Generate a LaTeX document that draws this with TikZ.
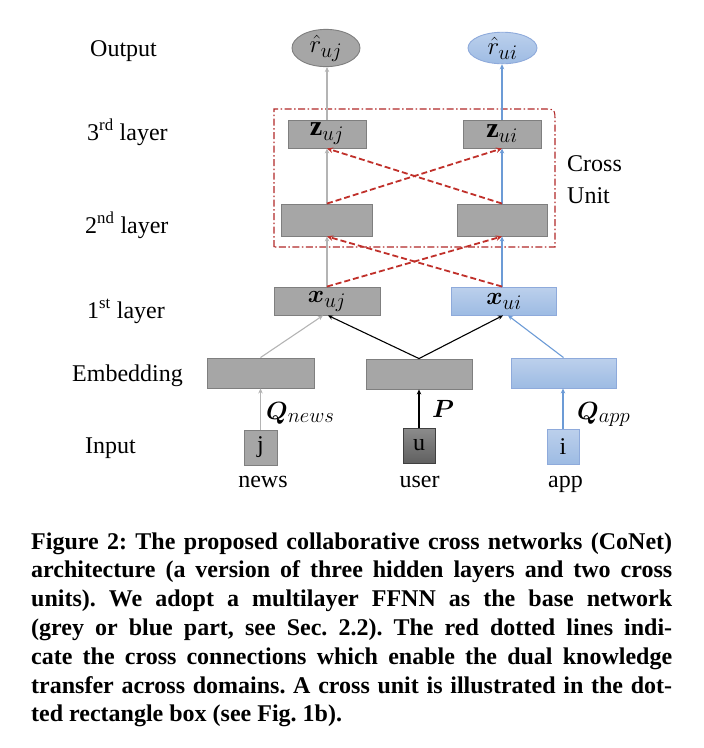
\documentclass[tikz,border=0pt]{standalone}
\usepackage{fontspec}
\usepackage{bm}
\setmainfont{Liberation Serif}
\usetikzlibrary{arrows.meta,shapes.geometric,calc}
\definecolor{gfill}{HTML}{A6A6A6}
\definecolor{gborder}{HTML}{7F7F7F}
\definecolor{gline}{HTML}{B4B4B4}
\definecolor{btop}{HTML}{BCD0EC}
\definecolor{bbot}{HTML}{9DBBE3}
\definecolor{bborder}{HTML}{8EAADB}
\definecolor{bline}{HTML}{6C9BD6}
\definecolor{utop}{HTML}{8C8C8C}
\definecolor{ubot}{HTML}{606060}
\definecolor{uborder}{HTML}{404040}
\definecolor{xred}{HTML}{C0302A}
\definecolor{cred}{HTML}{B02828}
\frenchspacing
\begin{document}
\begin{tikzpicture}[x=1pt,y=-1pt,
  big/.style={font=\fontsize{24}{28}\selectfont},
  mbig/.style={font=\fontsize{28}{32}\selectfont},
  lab/.style={big, inner sep=0pt, anchor=base west},
  mlab/.style={mbig, inner sep=0pt, anchor=base west},
  gbox/.style={draw=gborder, fill=gfill, line width=0.9pt, inner sep=0pt, big},
  bbox/.style={draw=bborder, top color=btop, bottom color=bbot, line width=0.9pt, inner sep=0pt, big},
  ubox/.style={draw=uborder, top color=utop, bottom color=ubot, line width=0.9pt, inner sep=0pt, big},
  gell/.style={ellipse, draw=gborder, fill=gfill, line width=0.9pt, inner sep=0pt, minimum width=68pt, minimum height=30pt, mbig},
  bell/.style={ellipse, draw=bborder, top color=btop, bottom color=bbot, line width=0.9pt, inner sep=0pt, minimum width=69pt, minimum height=30pt, mbig},
  garr/.style={draw=gline, line width=1.1pt, -{Stealth[length=5pt,width=4.5pt]}},
  barr/.style={draw=bline, line width=1.1pt, -{Stealth[length=5pt,width=4.5pt]}},
  karr/.style={draw=black, line width=1.1pt, -{Stealth[length=5pt,width=4.5pt]}},
  rarr/.style={draw=xred, line width=1.8pt, dash pattern=on 6pt off 3pt, -{Stealth[length=6pt,width=5.5pt]}},
  crossbox/.style={draw=cred, line width=1.1pt, dash pattern=on 7pt off 2.5pt on 1.5pt off 2.5pt},
  capline/.style={inner sep=0pt, anchor=base west, font=\fontsize{24}{28.8}\selectfont\bfseries}
]
\useasboundingbox (0,0) rectangle (704,748);

% left labels
\node[lab] (lout) at (90,56) {Output};
\node[lab] (l3) at (87,140) {3\textsuperscript{rd} layer};
\node[lab] (l2) at (85,233) {2\textsuperscript{nd} layer};
\node[lab] (l1) at (87,318) {1\textsuperscript{st} layer};
\node[lab] (lemb) at (72,381) {Embedding};
\node[lab] (lin) at (85,453) {Input};

% cross unit box
\draw[crossbox] (274,247) -- (274,109) -- (543,109) .. controls (555,109) .. (555,122) -- (555,247) -- cycle;
\node[lab] (tcross) at (567,171) {Cross};
\node[lab] (tunit) at (567,203) {Unit};

% outputs
\node[gell] (ro) at (326,48) {$\hat{r}_{uj}$};
\node[bell] (ri) at (502.5,48) {$\hat{r}_{ui}$};

% 3rd layer
\node[gbox, mbig, minimum width=78pt, minimum height=28pt] (zj) at (327,134) {$\mathbf{z}_{uj}$};
\node[gbox, mbig, minimum width=78pt, minimum height=28pt] (zi) at (502,134) {$\mathbf{z}_{ui}$};

% 2nd layer
\node[gbox, minimum width=91pt, minimum height=32pt] (hj) at (326.5,220) {};
\node[gbox, minimum width=90pt, minimum height=32pt] (hi) at (502,220) {};

% 1st layer
\node[gbox, mbig, minimum width=106pt, minimum height=28pt] (xj) at (327,301) {$\bm{x}_{uj}$};
\node[bbox, mbig, minimum width=105pt, minimum height=28pt] (xi) at (504,301) {$\bm{x}_{ui}$};

% embedding
\node[gbox, minimum width=107pt, minimum height=30pt] (ej) at (260.5,373) {};
\node[gbox, minimum width=106pt, minimum height=30pt] (eu) at (419,374) {};
\node[bbox, minimum width=105pt, minimum height=30pt] (ei) at (563.5,373) {};

% inputs
\node[gbox, minimum width=33pt, minimum height=35pt] (j) at (260.5,447.5) {j};
\node[ubox, minimum width=32pt, minimum height=35pt] (u) at (419,445.5) {u};
\node[bbox, minimum width=32pt, minimum height=35pt] (i) at (563,446.5) {i};
\node[lab, anchor=base] (tnews) at (263,487) {news};
\node[lab, anchor=base] (tuser) at (419.5,487) {user};
\node[lab, anchor=base] (tapp) at (565.5,487) {app};

% matrices
\node[mlab] (qn) at (266,419) {$\bm{Q}_{news}$};
\node[mlab] (qp) at (432,417) {$\bm{P}$};
\node[mlab] (qa) at (577,419) {$\bm{Q}_{app}$};

% input -> embedding
\draw[garr] (j.north) -- (j.north |- ej.south);
\draw[karr] (u.north) -- (eu.south);
\draw[barr] (i.north) -- (i.north |- ei.south);

% embedding -> 1st layer
\draw[garr] (ej.north) -- ([xshift=-4pt]xj.south);
\draw[karr] (eu.north) -- ([xshift=1pt]xj.south);
\draw[karr] (eu.north) -- ([xshift=-1pt]xi.south);
\draw[barr] (ei.north) -- ([xshift=4pt]xi.south);

% 1st -> 2nd
\draw[garr] (xj.north) -- (xj.north |- hj.south);
\draw[barr] ([xshift=-2pt]xi.north) -- (hi.south);
\draw[rarr] (xj.north) -- (hi.south);
\draw[rarr] ([xshift=-2pt]xi.north) -- ([xshift=0.5pt]hj.south);

% 2nd -> 3rd
\draw[garr] ([xshift=0.5pt]hj.north) -- (zj.south);
\draw[barr] (hi.north) -- (zi.south);
\draw[rarr] ([xshift=0.5pt]hj.north) -- (zi.south);
\draw[rarr] (hi.north) -- (zj.south);

% 3rd -> output
\draw[garr] (zj.north) -- (zj.north |- ro.south);
\draw[barr] (zi.north) -- (zi.north |- ri.south);

% caption
\node[capline] (c1) at (31,549) {\makebox[641pt][s]{Figure 2: The proposed collaborative cross networks (CoNet)}};
\node[capline] (c2) at (31,577.8) {\makebox[641pt][s]{architecture (a version of three hidden layers and two cross}};
\node[capline] (c3) at (31,606.6) {\makebox[641pt][s]{units). We adopt a multilayer FFNN as the base network}};
\node[capline] (c4) at (31,635.4) {\makebox[641pt][s]{(grey or blue part, see Sec. 2.2). The red dotted lines indi-}};
\node[capline] (c5) at (31,664.2) {\makebox[641pt][s]{cate the cross connections which enable the dual knowledge}};
\node[capline] (c6) at (31,693) {\makebox[641pt][s]{transfer across domains. A cross unit is illustrated in the dot-}};
\node[capline] (c7) at (31,721.8) {ted rectangle box (see Fig. 1b).};
\end{tikzpicture}
\end{document}
